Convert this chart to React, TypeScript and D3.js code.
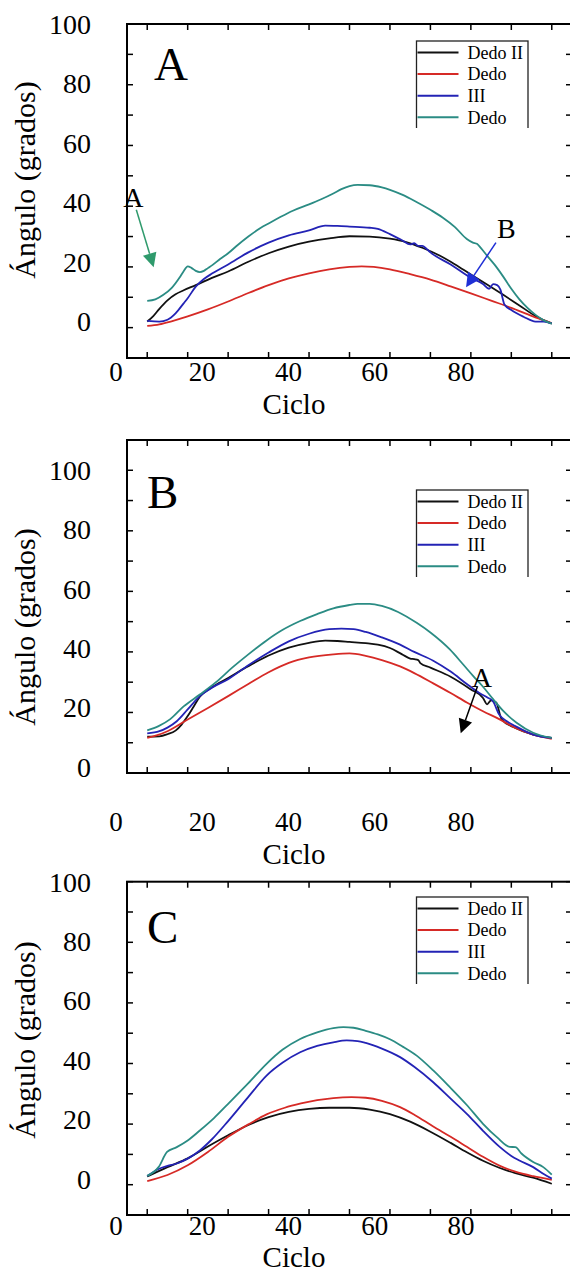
import React from 'react';
import * as d3 from 'd3';

// curves: [ciclo %, angulo]
const aDedoII = [[0,2],[1.5,3.8],[3,6.2],[5,9],[7,11],[9,12.3],[12,14],[16,16.4],[20,18.5],[25,21.7],[30,24.5],[35,26.7],[40,28.3],[45,29.4],[50,30.1],[55,30],[60,29.3],[64,28.2],[68,26.3],[72,23.9],[76,20.9],[80,17.5],[84,14.2],[88,10.8],[92,7.3],[96,3.8],[100,1.3]];
const aDedoIII = [[0,0.6],[3,1.1],[6,2.1],[10,3.7],[15,6],[20,8.6],[25,11.4],[30,14],[35,16.2],[40,17.9],[45,19.2],[50,20],[53,20.2],[56,20],[60,19.2],[65,17.6],[70,15.8],[75,13.6],[80,11.3],[85,8.9],[90,6.5],[95,3.9],[100,1.5]];
const aDedoIV = [[0,2.2],[3,2],[5,2.6],[7,4.7],[9,8],[10,9.7],[12,13.5],[14,16],[16,17.8],[20,20.8],[25,24.8],[30,28],[35,30.4],[40,32],[44,33.6],[47,33.5],[50,33.3],[55,32.9],[57,32.5],[60,30.8],[63,28.8],[65,27.4],[66,27.8],[67,26.9],[68,26.9],[69,26],[70,24.8],[75,20.8],[80,16.4],[83,14.4],[84.5,12.8],[85.5,14.3],[86.5,14],[87.3,12.5],[88.3,7.6],[90,5.8],[93,3.6],[96,2],[98,2],[100,1.4]];
const aDedoV = [[0,8.8],[2,9.3],[4,10.8],[6,13],[8,16.5],[9,18.6],[10,20.2],[11,19.6],[12,18.7],[13,18.3],[14,18.7],[15,19.6],[16,20.5],[18,22.6],[20,24.5],[22,26.8],[25,30],[28,32.8],[30,34.3],[33,36.5],[36,38.5],[40,40.6],[43,42.3],[46,44.2],[48,45.6],[50,46.6],[52,47],[55,46.9],[58,46.2],[60,45.4],[63,43.8],[66,41.8],[70,38.8],[73,36.3],[76,33.2],[79,29.2],[80.5,28],[81.5,27.6],[82.5,26.2],[84,23.7],[86,20.5],[88,16.8],[90,12.8],[92,9.3],[94,6.5],[96,4.2],[98,2.4],[100,1.3]];

const bDedoII = [[0,12],[3,12.1],[5,12.8],[7,14],[8.5,16],[10,18.8],[11.5,22],[13,25.2],[16,28.3],[20,31.4],[25,35.3],[30,38.8],[35,41.4],[40,43],[44,43.7],[47,43.6],[50,43.3],[54,42.9],[57,42.4],[60,41.3],[63,39.2],[65,37.8],[66,37.6],[67,37.3],[67.5,36.3],[70,34.8],[75,31.8],[80,27.6],[83,24.8],[84,22.7],[85,24],[86.3,23.2],[87.6,17.7],[91,14.9],[95.4,12.7],[100,11.6]];
const bDedoIII = [[0,11.6],[2.5,12.5],[5,13.8],[10,17.7],[15,21.5],[20,25.4],[25,29.4],[30,33.3],[35,36.4],[40,38.2],[46,39.2],[50,39.5],[54,38.7],[58,37.3],[62.5,35.2],[66,33],[70.7,29.6],[75,26.4],[79,23.3],[83,20.4],[87,17.8],[91,14.9],[95.4,12.7],[100,11.3]];
const bDedoIV = [[0,13.1],[3,13.8],[5,15],[7.3,17.1],[10,21],[13,25.4],[16,28.2],[20,31],[25,35.6],[30,39.8],[35,43.5],[40,46],[45,47.5],[48,47.7],[51,47.5],[54,46.6],[58,44.8],[62.5,42.4],[66,40],[70.7,37.1],[75,33.5],[79,29.4],[82,26.5],[84,25],[85.5,23.6],[87,19.3],[89,17],[91,15.5],[95.4,12.7],[100,11.6]];
const bDedoV = [[0,14.1],[2.8,15.5],[5.7,17.8],[9,22],[13,25.9],[17,30],[21,34.8],[25,39.2],[29.5,43.8],[33.5,47.3],[37.8,50.2],[42,52.5],[46,54.4],[50,55.5],[52,55.9],[55,55.9],[58,55.2],[62,53.2],[66.6,49.6],[70,46.4],[74.8,40.8],[78,36],[80.6,32],[83,28.5],[85.5,24.4],[88,20.5],[91.3,16.6],[95.4,13.3],[100,11.6]];

const cDedoII = [[0,2.7],[5,5.8],[10,8.7],[15,12.6],[20,16.3],[25,19.7],[30,22.3],[35,24],[40,25],[45,25.4],[50,25.4],[55,24.8],[60,23.3],[65,20.8],[70,17.5],[75,13.8],[79,10.7],[83,7.9],[87,5.6],[91,3.8],[95.4,2.3],[100,0.3]];
const cDedoIII = [[0,1.2],[5,3.2],[10,6.4],[15,10.8],[20,15.8],[25,19.9],[29.5,23.2],[34,25.4],[38,26.8],[42,27.9],[46,28.6],[50.5,28.9],[54,28.7],[58,27.7],[62.5,25.6],[66,23.1],[70.7,19.2],[75,15.8],[79,12.5],[83,9.2],[87.2,6.2],[91,4.3],[95.4,2.8],[100,1.6]];
const cDedoIV = [[0,2.9],[2.8,5.2],[5,6.2],[7.3,7],[10,8.6],[13,11.3],[16,15],[20,21],[25,29],[29.5,36],[33.5,40.3],[37.8,43.7],[42,45.8],[46,47],[49.3,47.6],[52,47.4],[54,46.8],[58,44.9],[62.5,42.1],[66,38.9],[70.7,33.8],[75,28.4],[79,23.4],[83,17.8],[87.2,12.4],[90,9.5],[92,8],[95.4,5.8],[98,3.5],[100,2]];
const cDedoV = [[0,2.9],[2.8,5.8],[4.9,10.8],[7.3,12.4],[10,14.6],[13,17.9],[16.5,22],[20,26.7],[25,33.5],[29.5,39.9],[33.5,44.6],[37.8,48.1],[42,50.3],[46,51.7],[48.5,52],[51,51.8],[54,50.8],[57,49.6],[60,48],[63,45.7],[66.6,42.6],[70.7,37.7],[74.8,32.2],[79,26.3],[83,20.1],[86.5,15.6],[89.6,12.5],[91,12.4],[92.5,10.3],[95.4,7.5],[97.9,5.8],[100,3.3]];

const colors = ['#111111', '#d62a26', '#2323b5', '#2b8c84'];
// the legend text is wrapped and cut in the original figure
const legendLines = ['Dedo II', 'Dedo', 'III', 'Dedo', 'IV'];
const xTickLabels = [0, 20, 40, 60, 80];
const yTickLabels = [0, 20, 40, 60, 80, 100];

const font = 'Liberation Serif, Times New Roman, serif';
const W = 570;
const H = 1274;

const x = d3.scaleLinear().domain([-5, 105]).range([127, 572]);
// tick labels of the x axis sit off the ticks in the source
const xLab = d3.scaleLinear().domain([0, 80]).range([116, 461]);

const panels = [
  {
    letter: 'A', top: 24, bottom: 358, yMin: -10, yMax: 100, series: [aDedoII, aDedoIII, aDedoIV, aDedoV],
    letterX: 154, letterY: 80, legendTop: 41, xLabelY: 372, cicloY: 404, titleY: 180,
    notes: [
      { text: 'A', tx: -3.4, ty: 43, x1: -2.7, y1: 38.8, x2: 1.6, y2: 19.9, color: '#2f9a6c' },
      { text: 'B', tx: 88.8, ty: 32.7, x1: 86.2, y1: 28, x2: 78.8, y2: 13.3, color: '#1f2fd6' },
    ],
  },
  {
    letter: 'B', top: 440, bottom: 773, yMin: 0, yMax: 110, series: [bDedoII, bDedoIII, bDedoIV, bDedoV],
    letterX: 147, letterY: 508, legendTop: 490, xLabelY: 822, cicloY: 854, titleY: 627,
    notes: [
      { text: 'A', tx: 82.7, ty: 31.8, x1: 81.6, y1: 28.5, x2: 77.5, y2: 13.1, color: '#000000' },
    ],
  },
  {
    letter: 'C', top: 881.7, bottom: 1215, yMin: -10, yMax: 100, series: [cDedoII, cDedoIII, cDedoIV, cDedoV],
    letterX: 147, letterY: 943, legendTop: 897, xLabelY: 1226, cicloY: 1257, titleY: 1040,
    notes: [],
  },
];

const Arrow = ({ x1, y1, x2, y2, color }) => {
  const ang = Math.atan2(y2 - y1, x2 - x1);
  const len = 14, half = 7;
  const bx = x2 - len * Math.cos(ang);
  const by = y2 - len * Math.sin(ang);
  const px = -Math.sin(ang) * half;
  const py = Math.cos(ang) * half;
  return (
    <g>
      <line x1={x1} y1={y1} x2={bx} y2={by} stroke={color} strokeWidth={1.5} />
      <path d={`M${x2},${y2}L${bx + px},${by + py}L${bx - px},${by - py}Z`} fill={color} />
    </g>
  );
};

const Panel = ({ p, idx }) => {
  const y = d3.scaleLinear().domain([p.yMin, p.yMax]).range([p.bottom, p.top]);
  const yLab = d3.scaleLinear().domain([0, 100]).range([y(0) - 6, y(100)]);
  const line = d3.line().x((d) => x(d[0])).y((d) => y(d[1])).curve(d3.curveMonotoneX);
  const xTicks = d3.range(0, 101, 10);
  const yTicks = d3.range(Math.max(0, p.yMin + 10), 101, 10);
  const left = x.range()[0];
  const right = x.range()[1];
  const lx = 416.5, lw = 111.5, lh = 87, rowH = 21.6;
  const clipId = `leg-${idx}`;

  return (
    <g style={{ fontFamily: font }}>
      {p.series.map((s, i) => (
        <path key={i} d={line(s)} fill="none" stroke={colors[i]} strokeWidth={1.8} />
      ))}

      <rect x={left} y={p.top} width={right - left} height={p.bottom - p.top} fill="none" stroke="#000" strokeWidth={2} />
      {xTicks.map((t) => (
        <g key={`xt${t}`}>
          <line x1={x(t)} x2={x(t)} y1={p.bottom} y2={p.bottom - 6} stroke="#000" strokeWidth={1.5} />
          <line x1={x(t)} x2={x(t)} y1={p.top} y2={p.top + 6} stroke="#000" strokeWidth={1.5} />
        </g>
      ))}
      {yTicks.map((t) => (
        <g key={`yt${t}`}>
          <line x1={left} x2={left + 6} y1={y(t)} y2={y(t)} stroke="#000" strokeWidth={1.5} />
          <line x1={right} x2={right - 6} y1={y(t)} y2={y(t)} stroke="#000" strokeWidth={1.5} />
        </g>
      ))}

      {yTickLabels.map((t) => (
        <text key={`yl${t}`} x={91} y={yLab(t)} dy="0.35em" textAnchor="end" fontSize={28}>
          {t}
        </text>
      ))}
      {xTickLabels.map((t) => (
        <text key={`xl${t}`} x={xLab(t)} y={p.xLabelY} dy="0.35em" textAnchor="middle" fontSize={27}>
          {t}
        </text>
      ))}
      <text x={294} y={p.cicloY} dy="0.35em" textAnchor="middle" fontSize={29}>
        Ciclo
      </text>
      <text transform={`translate(24,${p.titleY}) rotate(-90)`} dy="0.35em" textAnchor="middle" fontSize={30}>
        Ángulo (grados)
      </text>

      <text x={p.letterX} y={p.letterY} fontSize={47}>
        {p.letter}
      </text>

      <clipPath id={clipId}>
        <rect x={lx - 2} y={p.legendTop - 2} width={lw + 4} height={lh + 2} />
      </clipPath>
      <g clipPath={`url(#${clipId})`}>
        <rect x={lx} y={p.legendTop} width={lw} height={lh + 20} fill="#fff" stroke="#222" strokeWidth={1.3} />
        {legendLines.map((t, i) => (
          <g key={i}>
            {i < 4 && (
              <line
                x1={lx + 1}
                x2={lx + 42}
                y1={p.legendTop + 11.5 + i * rowH}
                y2={p.legendTop + 11.5 + i * rowH}
                stroke={colors[i]}
                strokeWidth={2}
              />
            )}
            <text x={lx + 51} y={p.legendTop + 11.5 + i * rowH} dy="0.35em" fontSize={18}>
              {t}
            </text>
          </g>
        ))}
      </g>

      {p.notes.map((n, i) => (
        <g key={`n${i}`}>
          <text x={x(n.tx)} y={y(n.ty)} dy="0.35em" textAnchor="middle" fontSize={28}>
            {n.text}
          </text>
          <Arrow x1={x(n.x1)} y1={y(n.y1)} x2={x(n.x2)} y2={y(n.y2)} color={n.color} />
        </g>
      ))}
    </g>
  );
};

const App = () => (
  <svg width={W} height={H} style={{ position: 'absolute', left: 0, top: 0, background: '#fff' }}>
    <rect width={W} height={H} fill="#fff" />
    {panels.map((p, i) => (
      <Panel key={p.letter} p={p} idx={i} />
    ))}
  </svg>
);

export default App;
